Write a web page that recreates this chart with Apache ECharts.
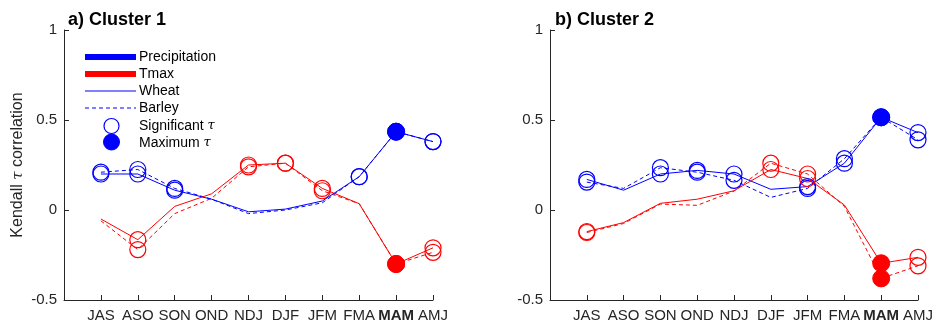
<!DOCTYPE html>
<html>
<head>
<meta charset="utf-8">
<script src="https://cdn.jsdelivr.net/npm/echarts@6/dist/echarts.min.js"></script>
<style>html,body{margin:0;padding:0;background:#fff}#c{width:936px;height:325px}</style>
</head>
<body>
<div id="c"></div>
<script>
const categories = ['JAS','ASO','SON','OND','NDJ','DJF','JFM','FMA','MAM','AMJ'];
const boldCategory = 'MAM';
const yTicks = [-0.5, 0, 0.5, 1];
const panelTitles = ['a) Cluster 1', 'b) Cluster 2'];

// Cluster 1
const c1PrecipWheat  = [0.20, 0.20, 0.11, 0.06, -0.01, 0.005, 0.05, 0.185, 0.435, 0.38];
const c1PrecipBarley = [0.21, 0.225, 0.12, 0.06, -0.02, 0.0, 0.04, 0.185, 0.435, 0.38];
const c1TmaxWheat    = [-0.05, -0.165, 0.02, 0.09, 0.25, 0.26, 0.12, 0.035, -0.30, -0.21];
const c1TmaxBarley   = [-0.06, -0.22, -0.02, 0.065, 0.24, 0.26, 0.107, 0.035, -0.30, -0.235];
// 0 = not significant, 1 = significant, 2 = maximum
const c1PrecipWheatSig  = [1, 1, 1, 0, 0, 0, 0, 1, 2, 1];
const c1PrecipBarleySig = [1, 1, 1, 0, 0, 0, 0, 1, 2, 1];
const c1TmaxWheatSig    = [0, 1, 0, 0, 1, 1, 1, 0, 2, 1];
const c1TmaxBarleySig   = [0, 1, 0, 0, 1, 1, 1, 0, 2, 1];

// Cluster 2
const c2PrecipWheat  = [0.17, 0.11, 0.20, 0.22, 0.20, 0.115, 0.13, 0.26, 0.515, 0.43];
const c2PrecipBarley = [0.155, 0.12, 0.235, 0.21, 0.165, 0.07, 0.12, 0.285, 0.515, 0.39];
const c2TmaxWheat    = [-0.12, -0.07, 0.037, 0.06, 0.107, 0.225, 0.175, 0.028, -0.296, -0.263];
const c2TmaxBarley   = [-0.125, -0.075, 0.033, 0.026, 0.105, 0.26, 0.20, 0.02, -0.38, -0.31];
const c2PrecipWheatSig  = [1, 0, 1, 1, 1, 0, 1, 1, 2, 1];
const c2PrecipBarleySig = [1, 0, 1, 1, 1, 0, 1, 1, 2, 1];
const c2TmaxWheatSig    = [1, 0, 0, 0, 0, 1, 1, 0, 2, 1];
const c2TmaxBarleySig   = [1, 0, 0, 0, 0, 1, 1, 0, 2, 1];

const BLUE = '#0000ff', RED = '#ff0000', AX = '#262626';
const FONT = 'Liberation Sans, Arial, sans-serif';

function makeData(vals, sig, color) {
  return vals.map((v, i) => {
    if (sig[i] === 2) return {value: [i, v], symbol: 'circle', symbolSize: 17,
      itemStyle: {color: color, borderColor: color, borderWidth: 1}};
    if (sig[i] === 1) return {value: [i, v], symbol: 'circle', symbolSize: 16,
      itemStyle: {color: 'rgba(0,0,0,0)', borderColor: color, borderWidth: 1.2}};
    return {value: [i, v], symbol: 'none'};
  });
}
function lineSeries(idx, vals, sig, color, dashed) {
  return {
    type: 'line', xAxisIndex: idx, yAxisIndex: idx,
    data: makeData(vals, sig, color),
    lineStyle: {color: color, width: 1, type: dashed ? [4, 3] : 'solid'},
    showAllSymbol: true, animation: false, silent: true, z: dashed ? 2 : 3
  };
}
function xAxis(idx) {
  return {
    type: 'value', gridIndex: idx, min: -1, max: 9, interval: 1,
    axisLine: {show: true, onZero: false, lineStyle: {color: AX, width: 1}},
    axisTick: {show: true, inside: true, length: 5, lineStyle: {color: AX}},
    splitLine: {show: false},
    axisLabel: {
      color: AX, fontSize: 15, fontFamily: FONT, margin: 8,
      formatter: v => {
        const c = categories[v];
        if (c === undefined) return '';
        return c === boldCategory ? '{b|' + c + '}' : c;
      },
      rich: {b: {fontWeight: 'bold', fontSize: 15, fontFamily: FONT, color: AX}}
    }
  };
}
function yAxis(idx) {
  const a = {
    type: 'value', gridIndex: idx, min: yTicks[0], max: yTicks[yTicks.length - 1], interval: 0.5,
    axisLine: {show: true, onZero: false, lineStyle: {color: AX, width: 1}},
    axisTick: {show: true, inside: true, length: 5, lineStyle: {color: AX}},
    splitLine: {show: false},
    axisLabel: {color: AX, fontSize: 15, fontFamily: FONT, margin: 7,
      formatter: v => String(v)}
  };
  if (idx === 0) {
    a.name = 'Kendall {t|τ} correlation';
    a.nameLocation = 'middle';
    a.nameGap = 38;
    a.nameTextStyle = {color: AX, fontSize: 16, fontFamily: FONT,
      rich: {t: {fontStyle: 'italic', fontFamily: 'DejaVu Serif, serif', fontSize: 15, color: AX}}};
  }
  return a;
}

const legX1 = 85, legX2 = 136, legTX = 139;
const legendGraphics = [
  {type: 'line', shape: {x1: legX1, y1: 57, x2: legX2, y2: 57}, style: {stroke: BLUE, lineWidth: 6}},
  {type: 'line', shape: {x1: legX1, y1: 74, x2: legX2, y2: 74}, style: {stroke: RED, lineWidth: 6}},
  {type: 'line', shape: {x1: legX1, y1: 91, x2: legX2, y2: 91}, style: {stroke: BLUE, lineWidth: 1}},
  {type: 'line', shape: {x1: legX1, y1: 108, x2: legX2, y2: 108}, style: {stroke: BLUE, lineWidth: 1, lineDash: [4, 3]}},
  {type: 'circle', shape: {cx: 111.5, cy: 126, r: 7.5}, style: {fill: 'none', stroke: BLUE, lineWidth: 1.2}},
  {type: 'circle', shape: {cx: 111.5, cy: 142, r: 8}, style: {fill: BLUE, stroke: BLUE}},
  {type: 'text', x: legTX, y: 57, style: {text: 'Precipitation', fill: '#000', font: '14px ' + FONT, verticalAlign: 'middle'}},
  {type: 'text', x: legTX, y: 74, style: {text: 'Tmax', fill: '#000', font: '14px ' + FONT, verticalAlign: 'middle'}},
  {type: 'text', x: legTX, y: 91, style: {text: 'Wheat', fill: '#000', font: '14px ' + FONT, verticalAlign: 'middle'}},
  {type: 'text', x: legTX, y: 108, style: {text: 'Barley', fill: '#000', font: '14px ' + FONT, verticalAlign: 'middle'}},
  {type: 'text', x: legTX, y: 126, style: {text: 'Significant {t|τ}', fill: '#000', font: '14px ' + FONT, verticalAlign: 'middle',
    rich: {t: {fontStyle: 'italic', fontFamily: 'DejaVu Serif, serif', fontSize: 13, fill: '#000'}}}},
  {type: 'text', x: legTX, y: 143, style: {text: 'Maximum {t|τ}', fill: '#000', font: '14px ' + FONT, verticalAlign: 'middle',
    rich: {t: {fontStyle: 'italic', fontFamily: 'DejaVu Serif, serif', fontSize: 13, fill: '#000'}}}}
];

const chart = echarts.init(document.getElementById('c'), null, {renderer: 'canvas'});
chart.setOption({
  backgroundColor: '#fff',
  animation: false,
  title: [
    {text: panelTitles[0], left: 63, top: 6, textStyle: {fontSize: 18, fontWeight: 'bold', color: '#000', fontFamily: FONT}},
    {text: panelTitles[1], left: 550, top: 6, textStyle: {fontSize: 18, fontWeight: 'bold', color: '#000', fontFamily: FONT}}
  ],
  grid: [
    {left: 64, top: 30, width: 369, height: 270},
    {left: 550, top: 30, width: 370, height: 270}
  ],
  xAxis: [xAxis(0), xAxis(1)],
  yAxis: [yAxis(0), yAxis(1)],
  graphic: legendGraphics,
  series: [
    lineSeries(0, c1PrecipBarley, c1PrecipBarleySig, BLUE, true),
    lineSeries(0, c1PrecipWheat, c1PrecipWheatSig, BLUE, false),
    lineSeries(0, c1TmaxBarley, c1TmaxBarleySig, RED, true),
    lineSeries(0, c1TmaxWheat, c1TmaxWheatSig, RED, false),
    lineSeries(1, c2PrecipBarley, c2PrecipBarleySig, BLUE, true),
    lineSeries(1, c2PrecipWheat, c2PrecipWheatSig, BLUE, false),
    lineSeries(1, c2TmaxBarley, c2TmaxBarleySig, RED, true),
    lineSeries(1, c2TmaxWheat, c2TmaxWheatSig, RED, false)
  ]
});
</script>
</body>
</html>
